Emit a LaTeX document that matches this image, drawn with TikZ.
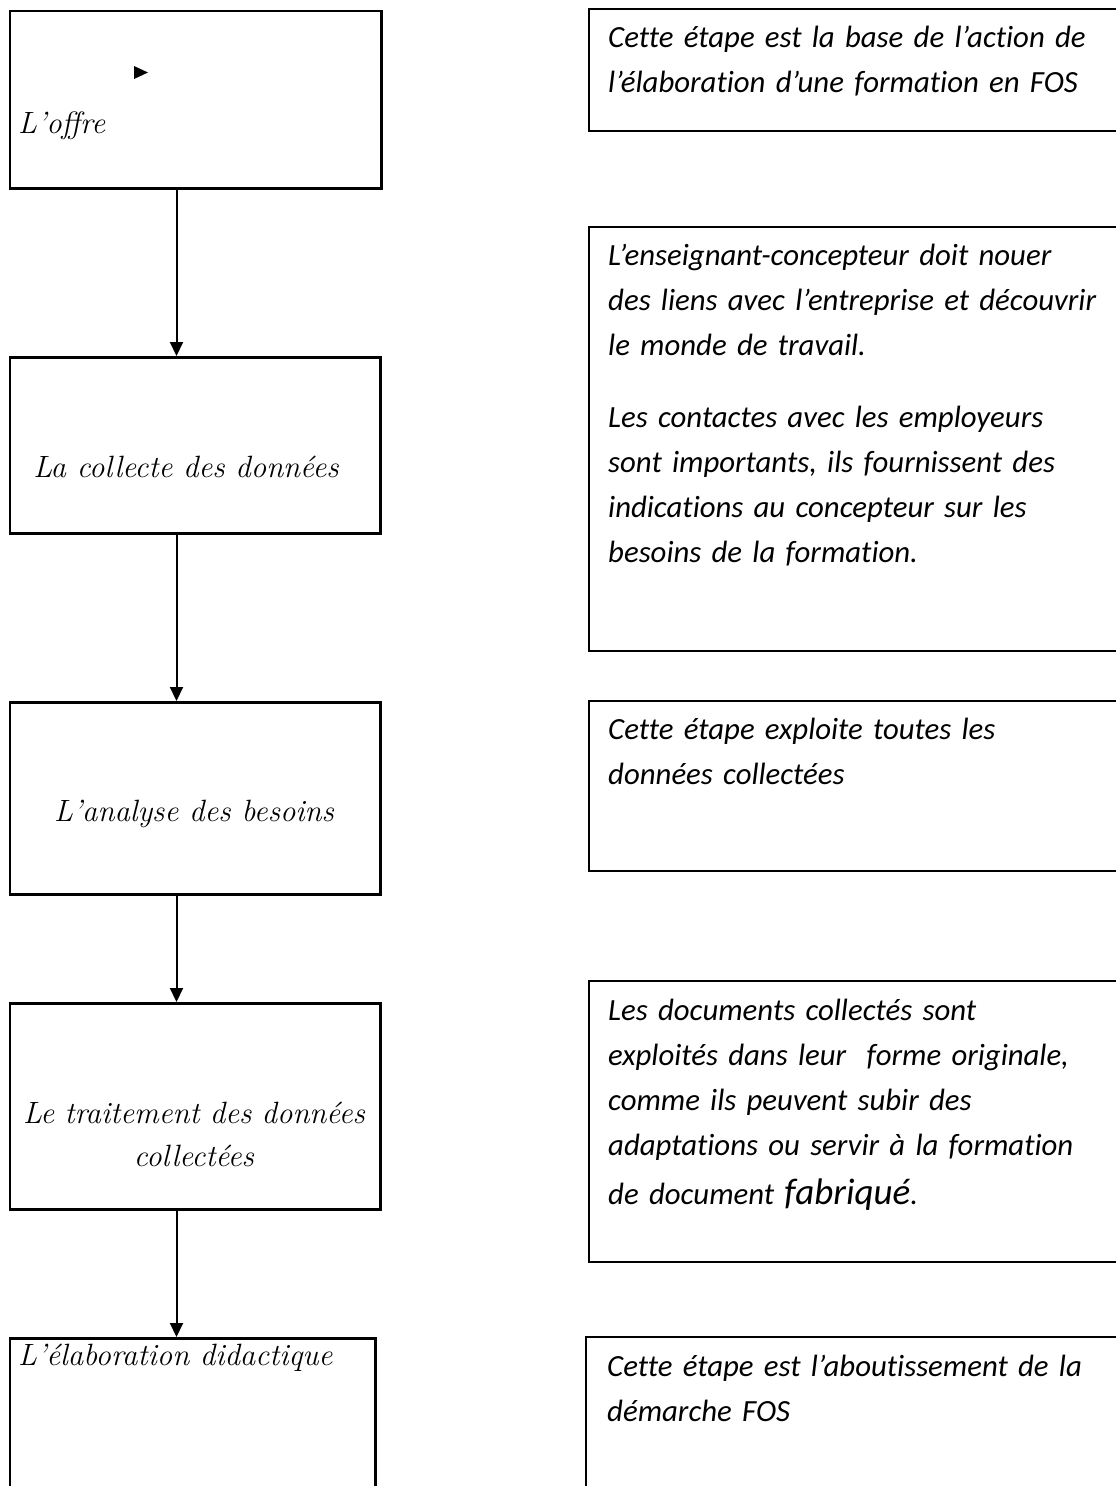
\documentclass[tikz,border=0pt]{standalone}
\usepackage{fontspec}
\newfontfamily\notefont[Ligatures=NoCommon]{Carlito}
\usepackage{tikz}
\usetikzlibrary{positioning, arrows.meta, calc}
\tikzset{
  stepbox/.style={
    draw,
    rectangle,
    line width=2.6pt,
    anchor=north west,
    inner sep=0pt
  },
  notebox/.style={
    draw,
    rectangle,
    line width=2pt,
    anchor=north west,
    inner sep=0pt
  }
}

\begin{document}
\begin{tikzpicture}[x=1pt, y=-1pt,
      steptext/.style={font=\itshape\fontsize{30.8}{43}\selectfont, inner sep=0pt},
      notetext/.style={font=\notefont\itshape\fontsize{30.8}{45}\selectfont, text width=520pt, align=left, inner sep=0pt, anchor=base west},
      flow/.style={line width=2pt, -{Triangle[length=14pt, width=13pt]}}
    ]
      \useasboundingbox (0,0) rectangle (1116,1486);
      \clip (0,0) rectangle (1116,1486);

      % Étapes
      \node[stepbox, minimum width=371.5pt, minimum height=177.5pt] (offre) at (8.5,9.5) {};
      \node[stepbox, minimum width=370.5pt, minimum height=176pt] (collecte) at (8.5,356) {};
      \node[stepbox, minimum width=370.5pt, minimum height=192pt] (analyse) at (8.5,701) {};
      \node[stepbox, minimum width=370.5pt, minimum height=206pt] (traitement) at (8.5,1002) {};
      \node[stepbox, minimum width=365.5pt, minimum height=200pt] (elaboration) at (8.5,1337) {};

      \node[steptext, anchor=base west] (offre-lbl) at (18,133) {L’offre};
      \fill (134,66) -- (148,72.5) -- (134,79) -- cycle;
      \node[steptext, anchor=base] (collecte-lbl) at (186,477) {La collecte des données};
      \node[steptext, anchor=base] (analyse-lbl) at (194,821) {L’analyse des besoins};
      \node[steptext, anchor=base, text width=380pt, align=center] (traitement-lbl) at (194,1123) {Le traitement des données\\ collectées};
      \node[steptext, anchor=base west] (elaboration-lbl) at (18,1365) {L’élaboration didactique};

      % Flèches
      \coordinate (axe) at (176.5,0);
      \draw[flow] (offre.south -| axe) -- (collecte.north -| axe);
      \draw[flow] (collecte.south -| axe) -- (analyse.north -| axe);
      \draw[flow] (analyse.south -| axe) -- (traitement.north -| axe);
      \draw[flow] (traitement.south -| axe) -- (elaboration.north -| axe);

      % Commentaires
      \node[notebox, minimum width=540pt, minimum height=122.5pt] (n1) at (588,7.6) {};
      \node[notebox, minimum width=540pt, minimum height=424pt] (n2) at (588,226) {};
      \node[notebox, minimum width=540pt, minimum height=170pt] (n3) at (588,700) {};
      \node[notebox, minimum width=540pt, minimum height=281pt] (n4) at (588,980) {};
      \node[notebox, minimum width=540pt, minimum height=200pt] (n5) at (585,1336) {};

      \node[notetext] (n1-lbl) at (608,47) {Cette étape est la base de l’action de\\ l’élaboration d’une formation en FOS};
      \node[notetext] (n2-lbl) at (608,265) {L’enseignant-concepteur doit nouer\\ des liens avec l’entreprise et découvrir\\ le monde de travail.\\[27pt] Les contactes avec les employeurs\\ sont importants, ils fournissent des\\ indications au concepteur sur les\\ besoins de la formation.};
      \node[notetext] (n3-lbl) at (608,739) {Cette étape exploite toutes les\\ données collectées};
      \node[notetext] (n4-lbl) at (608,1020) {Les documents collectés sont\\ exploités dans leur\ \ forme originale,\\ comme ils peuvent subir des\\ adaptations ou servir à la formation\\[4pt] de document {\fontsize{37}{45}\selectfont fabriqué}.};
      \node[notetext] (n5-lbl) at (607,1376) {Cette étape est l’aboutissement de la\\ démarche FOS};
    \end{tikzpicture}
\end{document}
